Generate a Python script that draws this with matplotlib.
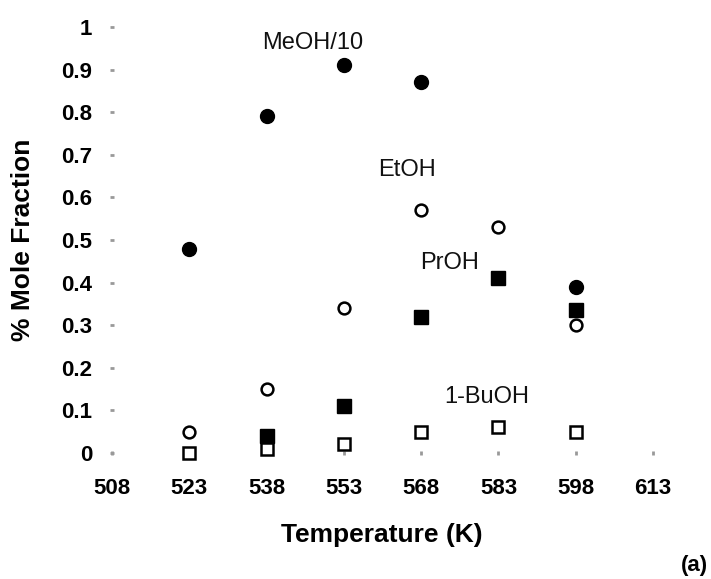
import matplotlib
matplotlib.use("Agg")
import matplotlib.pyplot as plt

plt.rcParams['font.family'] = ['Liberation Sans', 'DejaVu Sans']

# Data (Temperature in K, % mole fraction)
temps_meoh = [523, 538, 553, 568, 598]
meoh_10 = [0.48, 0.79, 0.91, 0.87, 0.39]

temps_etoh = [523, 538, 553, 568, 583, 598]
etoh = [0.05, 0.15, 0.34, 0.57, 0.53, 0.30]

temps_proh = [538, 553, 568, 583, 598]
proh = [0.04, 0.11, 0.32, 0.41, 0.335]

temps_buoh = [523, 538, 553, 568, 583, 598]
buoh = [0.0, 0.01, 0.02, 0.05, 0.06, 0.05]

x_ticks = [508, 523, 538, 553, 568, 583, 598, 613]
y_ticks = [0, 0.1, 0.2, 0.3, 0.4, 0.5, 0.6, 0.7, 0.8, 0.9, 1.0]
y_tick_labels = ["0", "0.1", "0.2", "0.3", "0.4", "0.5", "0.6", "0.7", "0.8", "0.9", "1"]

series_labels = ["MeOH/10", "EtOH", "PrOH", "1-BuOH"]
label_pos = [(547.0, 0.962), (565.3, 0.664), (573.6, 0.446), (580.8, 0.131)]

W, H = 711, 579
fig = plt.figure(figsize=(W / 100, H / 100), dpi=100)
ax = fig.add_axes([112 / W, 1 - 453 / H, (653 - 112) / W, (453 - 27) / H])

ax.plot(temps_meoh, meoh_10, 'o', color='black', markersize=10, clip_on=False, zorder=3)
ax.plot(temps_etoh, etoh, 'o', markerfacecolor='white', markeredgecolor='black',
        markeredgewidth=1.8, markersize=8.5, clip_on=False, zorder=4)
ax.plot(temps_proh, proh, 's', color='black', markersize=9.5, clip_on=False, zorder=3)
ax.plot(temps_buoh, buoh, 's', markerfacecolor='white', markeredgecolor='black',
        markeredgewidth=1.8, markersize=8.5, clip_on=False, zorder=4)

for lab, (lx, ly) in zip(series_labels, label_pos):
    ax.text(lx, ly, lab, ha='center', va='center', fontsize=17, color='#111111')

ax.set_xlim(508, 613)
ax.set_ylim(0, 1)
ax.set_xticks(x_ticks)
ax.set_xticklabels([str(t) for t in x_ticks], fontweight='bold', fontsize=16)
ax.set_yticks(y_ticks)
ax.set_yticklabels(y_tick_labels, fontweight='bold', fontsize=16)

for s in ax.spines.values():
    s.set_visible(False)
ax.tick_params(axis='both', direction='inout', length=2.5, width=2, color='#999999')
ax.tick_params(axis='y', pad=13)
ax.tick_params(axis='x', pad=17)

fig.text(23 / W, 1 - 240 / H, "% Mole Fraction", rotation=90, ha='center', va='center',
         fontsize=19, fontweight='bold')
fig.text(382 / W, 1 - 535 / H, "Temperature (K)", ha='center', va='center',
         fontsize=19, fontweight='bold')
fig.text(694 / W, 1 - 566 / H, "(a)", ha='center', va='center',
         fontsize=16, fontweight='bold')

fig.savefig("out.png", dpi=100)
